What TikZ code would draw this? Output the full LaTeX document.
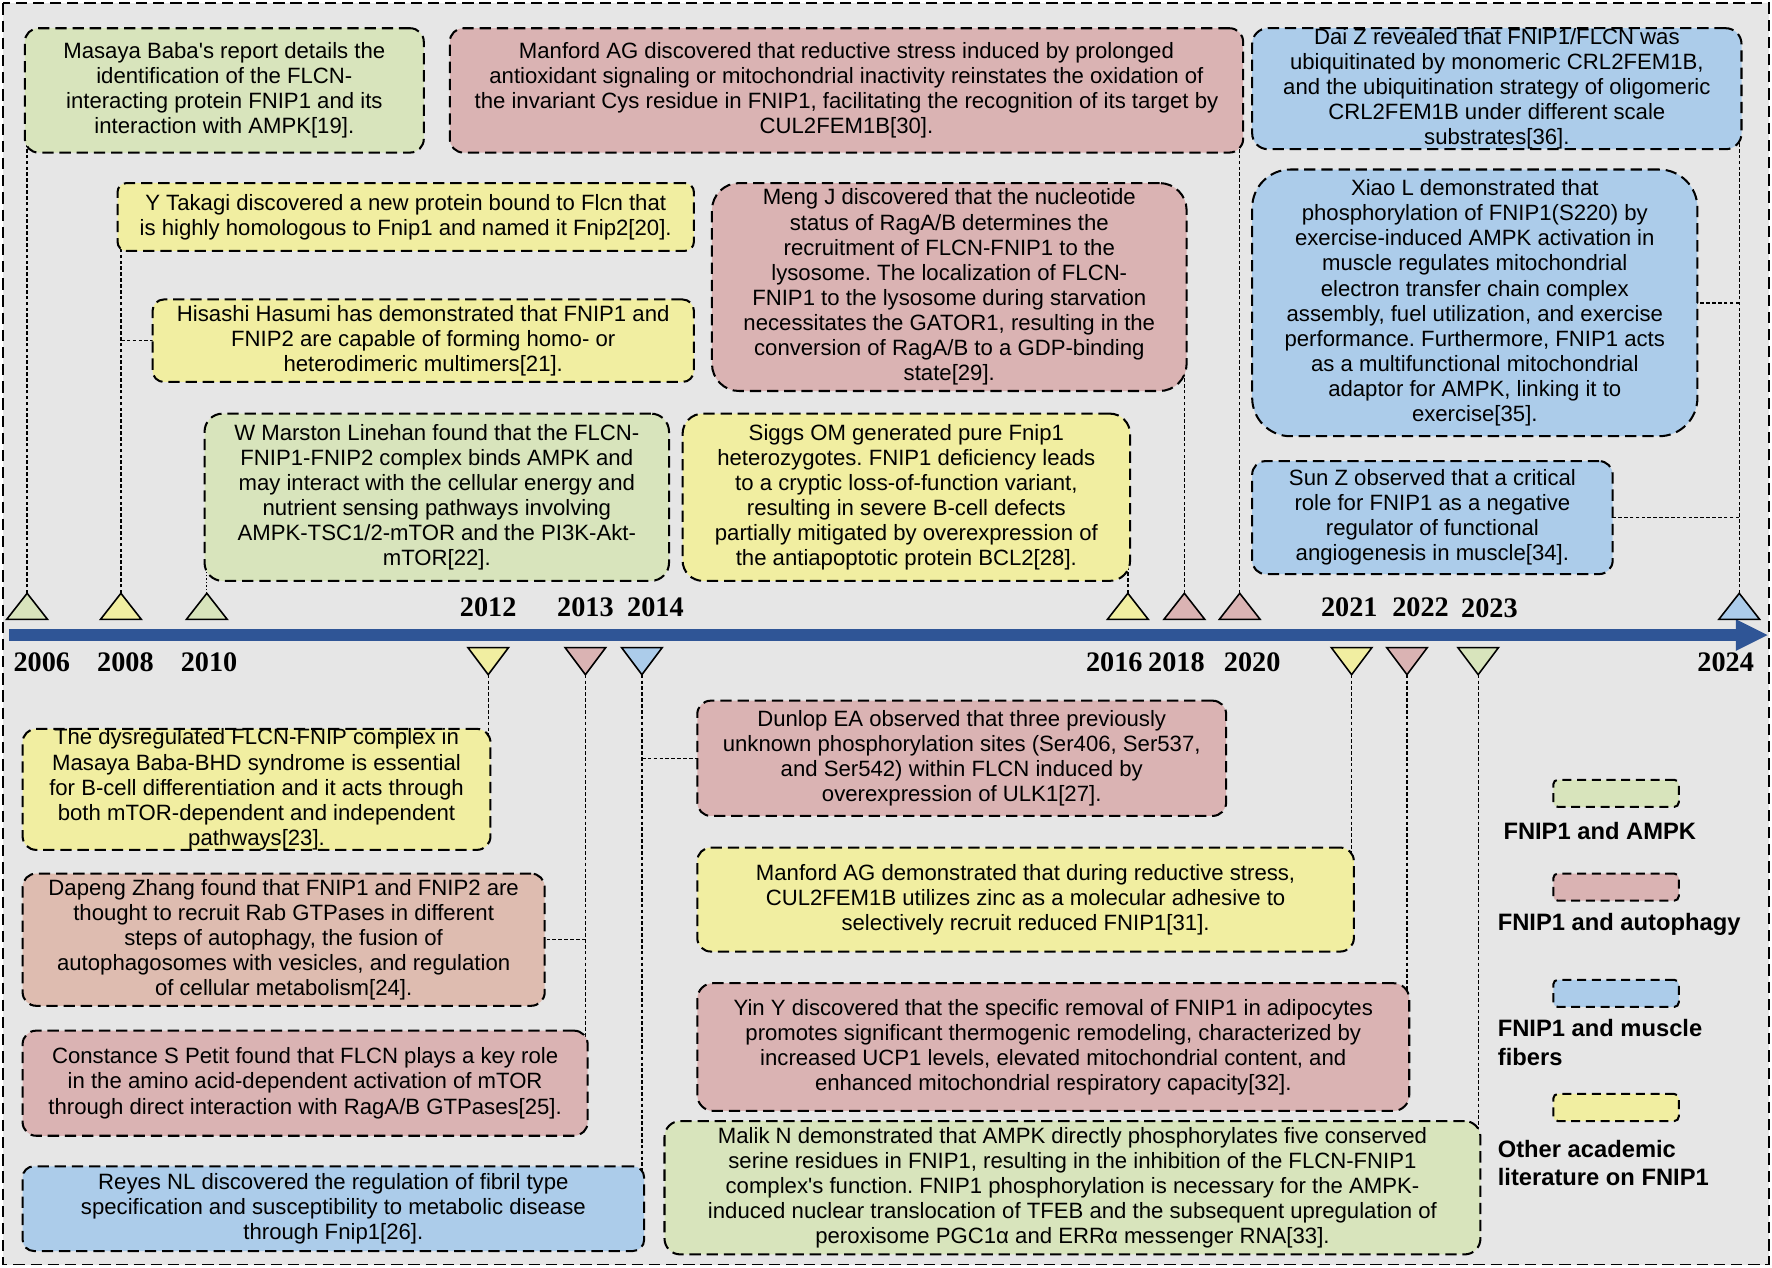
\documentclass[tikz,border=0pt]{standalone}
\usepackage{fontspec}
\setmainfont{Liberation Sans}
\newfontfamily\serifyear{Liberation Serif}
\usetikzlibrary{calc}
\frenchspacing
\definecolor{cgreen}{HTML}{D8E4BC}
\definecolor{cred}{HTML}{DAB3B3}
\definecolor{csalmon}{HTML}{DEBCB0}
\definecolor{cblue}{HTML}{ACCCEA}
\definecolor{cyellow}{HTML}{F1EEA1}
\definecolor{cbg}{HTML}{E6E6E6}
\definecolor{cbar}{HTML}{2F5596}
\pgfdeclarelayer{back}
\pgfdeclarelayer{lines}
\pgfsetlayers{back,lines,main}
\tikzset{
 evbox/.style={draw=black, line width=0.9pt, dash pattern=on 5pt off 2.6pt, rounded corners=6pt, align=center, inner sep=0pt, font=\fontsize{9.8}{11.1}\selectfont},
 conn/.style={draw=black, line width=0.6pt, dash pattern=on 1.6pt off 1pt},
 dotconn/.style={draw=black, line width=0.6pt, dash pattern=on 0.6pt off 0.9pt},
 tri/.style={draw=black, line width=0.7pt},
 yearlbl/.style={font=\serifyear\bfseries\fontsize{12.5}{14}\selectfont, inner sep=0pt},
 leglbl/.style={font=\bfseries\fontsize{10.5}{12.4}\selectfont, align=left, anchor=west, inner sep=0pt},
 legsw/.style={draw=black, line width=0.9pt, dash pattern=on 4pt off 2.5pt, rounded corners=2pt, minimum width=55.5pt, minimum height=12pt, inner sep=0pt},
 frame/.style={draw=black, line width=0.8pt, dash pattern=on 5pt off 2.6pt},
}
\newcommand\evt[8]{\node[evbox, fill=#6, minimum width={(#4-#2)*0.5pt}, minimum height={(#5-#3)*0.5pt}, #7] (#1) at ({(#2+#4)/2},{(#3+#5)/2}) {#8};}
\newcommand\triup[3]{\filldraw[tri, fill=#2] ({#1-18},548) -- ({#1+18},548) -- (#1,525) -- cycle; \coordinate (#3) at (#1,525);}
\newcommand\tridown[3]{\filldraw[tri, fill=#2] ({#1-18},573) -- ({#1+18},573) -- (#1,597) -- cycle; \coordinate (#3) at (#1,597);}
\begin{document}
\begin{tikzpicture}[x=0.5pt,y=-0.5pt]
\useasboundingbox (0,0) rectangle (1568,1122);
\begin{pgfonlayer}{back}
\fill[white] (0,0) rectangle (1568,1122);
\fill[cbg] (3,3) rectangle (1565,1119);
\fill[cbar] (8,557) rectangle (1538,567);
\fill[cbar] (1536,548) -- (1564,562) -- (1536,576) -- cycle;
\end{pgfonlayer}
\draw[frame] (3,3) rectangle (1565,1119);

% upper boxes
\evt{masaya}{22}{25}{375}{135}{cgreen}{}{Masaya Baba\textquotesingle s report details the\\identification of the FLCN-\\interacting protein FNIP1 and its\\interaction with AMPK[19].}
\evt{manford}{398}{25}{1100}{135}{cred}{}{Manford AG discovered that reductive stress induced by prolonged\\antioxidant signaling or mitochondrial inactivity reinstates the oxidation of\\the invariant Cys residue in FNIP1, facilitating the recognition of its target by\\CUL2FEM1B[30].}
\evt{daiz}{1108}{25}{1541}{132}{cblue}{rounded corners=7pt}{Dai Z revealed that FNIP1/FLCN was\\ubiquitinated by monomeric CRL2FEM1B,\\and the ubiquitination strategy of oligomeric\\CRL2FEM1B under different scale\\substrates[36].}
\evt{takagi}{104}{162}{614}{222}{cyellow}{rounded corners=4pt}{Y Takagi discovered a new protein bound to Flcn that\\is highly homologous to Fnip1 and named it Fnip2[20].}
\evt{hisashi}{135}{265}{614}{338}{cyellow}{rounded corners=5pt}{Hisashi Hasumi has demonstrated that FNIP1 and\\FNIP2 are capable of forming homo- or\\heterodimeric multimers[21].}
\evt{meng}{630}{162}{1050}{346}{cred}{rounded corners=12pt}{Meng J discovered that the nucleotide\\status of RagA/B determines the\\recruitment of FLCN-FNIP1 to the\\lysosome. The localization of FLCN-\\FNIP1 to the lysosome during starvation\\necessitates the GATOR1, resulting in the\\conversion of RagA/B to a GDP-binding\\state[29].}
\evt{xiao}{1108}{150}{1502}{386}{cblue}{rounded corners=17pt}{Xiao L demonstrated that\\phosphorylation of FNIP1(S220) by\\exercise-induced AMPK activation in\\muscle regulates mitochondrial\\electron transfer chain complex\\assembly, fuel utilization, and exercise\\performance. Furthermore, FNIP1 acts\\as a multifunctional mitochondrial\\adaptor for AMPK, linking it to\\exercise[35].}
\evt{linehan}{181}{366}{592}{514}{cgreen}{rounded corners=8pt}{W Marston Linehan found that the FLCN-\\FNIP1-FNIP2 complex binds AMPK and\\may interact with the cellular energy and\\nutrient sensing pathways involving\\AMPK-TSC1/2-mTOR and the PI3K-Akt-\\mTOR[22].}
\evt{siggs}{604}{366}{1000}{514}{cyellow}{rounded corners=9pt}{Siggs OM generated pure Fnip1\\heterozygotes. FNIP1 deficiency leads\\to a cryptic loss-of-function variant,\\resulting in severe B-cell defects\\partially mitigated by overexpression of\\the antiapoptotic protein BCL2[28].}
\evt{sunz}{1108}{408}{1427}{508}{cblue}{}{Sun Z observed that a critical\\role for FNIP1 as a negative\\regulator of functional\\angiogenesis in muscle[34].}

% lower boxes
\evt{dysreg}{20}{645}{434}{752}{cyellow}{}{The dysregulated FLCN-FNIP complex in\\Masaya Baba-BHD syndrome is essential\\for B-cell differentiation and it acts through\\both mTOR-dependent and independent\\pathways[23].}
\evt{dapeng}{20}{773}{482}{890}{csalmon}{}{Dapeng Zhang found that FNIP1 and FNIP2 are\\thought to recruit Rab GTPases in different\\steps of autophagy, the fusion of\\autophagosomes with vesicles, and regulation\\of cellular metabolism[24].}
\evt{constance}{20}{912}{520}{1005}{cred}{}{Constance S Petit found that FLCN plays a key role\\in the amino acid-dependent activation of mTOR\\through direct interaction with RagA/B GTPases[25].}
\evt{reyes}{20}{1032}{570}{1107}{cblue}{rounded corners=5pt}{Reyes NL discovered the regulation of fibril type\\specification and susceptibility to metabolic disease\\through Fnip1[26].}
\evt{dunlop}{617}{620}{1085}{722}{cred}{}{Dunlop EA observed that three previously\\unknown phosphorylation sites (Ser406, Ser537,\\and Ser542) within FLCN induced by\\overexpression of ULK1[27].}
\evt{manfordb}{617}{750}{1198}{842}{cyellow}{}{Manford AG demonstrated that during reductive stress,\\CUL2FEM1B utilizes zinc as a molecular adhesive to\\selectively recruit reduced FNIP1[31].}
\evt{yin}{617}{870}{1247}{983}{cred}{rounded corners=7pt}{Yin Y discovered that the specific removal of FNIP1 in adipocytes\\promotes significant thermogenic remodeling, characterized by\\increased UCP1 levels, elevated mitochondrial content, and\\enhanced mitochondrial respiratory capacity[32].}
\evt{malik}{588}{992}{1310}{1110}{cgreen}{rounded corners=7pt}{Malik N demonstrated that AMPK directly phosphorylates five conserved\\serine residues in FNIP1, resulting in the inhibition of the FLCN-FNIP1\\complex\textquotesingle s function. FNIP1 phosphorylation is necessary for the AMPK-\\induced nuclear translocation of TFEB and the subsequent upregulation of\\peroxisome PGC1α and ERRα messenger RNA[33].}

% triangles
\triup{24}{cgreen}{a2006}
\triup{107}{cyellow}{a2008}
\triup{183}{cgreen}{a2010}
\triup{998}{cyellow}{a2016}
\triup{1048}{cred}{a2018}
\triup{1097}{cred}{a2020}
\triup{1539}{cblue}{a2024}
\tridown{432}{cyellow}{a2012}
\tridown{518}{cred}{a2013}
\tridown{568}{cblue}{a2014}
\tridown{1196}{cyellow}{a2021}
\tridown{1245}{cred}{a2022}
\tridown{1308}{cgreen}{a2023}

% years
\node[yearlbl] (y2012) at (432,537) {2012};
\node[yearlbl] (y2013) at (518,537) {2013};
\node[yearlbl] (y2014) at (580,537) {2014};
\node[yearlbl] (y2021) at (1194,537) {2021};
\node[yearlbl] (y2022) at (1257,537) {2022};
\node[yearlbl] (y2023) at (1318,538) {2023};
\node[yearlbl] (y2006) at (37,586) {2006};
\node[yearlbl] (y2008) at (111,586) {2008};
\node[yearlbl] (y2010) at (185,586) {2010};
\node[yearlbl] (y2016) at (986,586) {2016};
\node[yearlbl] (y2018) at (1041,586) {2018};
\node[yearlbl] (y2020) at (1108,586) {2020};
\node[yearlbl] (y2024) at (1527,586) {2024};

% legend
\node[legsw, fill=cgreen] (sw1) at (1430,702) {};
\node[legsw, fill=cred] (sw2) at (1430,785) {};
\node[legsw, fill=cblue] (sw3) at (1430,879) {};
\node[legsw, fill=cyellow] (sw4) at (1430,980) {};
\node[leglbl] (lg1) at (1330,735) {FNIP1 and AMPK};
\node[leglbl] (lg2) at (1325,818) {FNIP1 and autophagy};
\node[leglbl] (lg3) at (1325,922.5) {FNIP1 and muscle\\fibers};
\node[leglbl] (lg4) at (1325,1029) {Other academic\\literature on FNIP1};

% connectors
\begin{pgfonlayer}{lines}
\draw[conn] (a2006) -- (a2006 |- masaya.center);
\draw[conn] (a2008) -- (a2008 |- takagi.center);
\draw[conn] (a2008 |- hisashi.center) -- (hisashi.center);
\draw[dotconn] (a2010) -- (a2010 |- linehan.center);
\draw[conn] (a2016) -- (a2016 |- siggs.center);
\draw[conn] (a2018) -- (a2018 |- meng.center);
\draw[conn] (a2020) -- (a2020 |- manford.center);
\draw[conn] (a2024) -- (a2024 |- daiz.center);
\draw[conn] (a2024 |- xiao.center) -- (xiao.center);
\draw[conn] (a2024 |- sunz.center) -- (sunz.center);
\draw[conn] (a2012) -- (a2012 |- dysreg.center);
\draw[conn] (a2013) -- (a2013 |- constance.center);
\draw[conn] (a2013 |- dapeng.center) -- (dapeng.center);
\draw[conn] (a2014) -- (a2014 |- reyes.center);
\draw[conn] (a2014 |- dunlop.center) -- (dunlop.center);
\draw[conn] (a2021) -- (a2021 |- manfordb.center);
\draw[conn] (a2022) -- (a2022 |- yin.center);
\draw[conn] (a2023) -- (a2023 |- malik.center);
\end{pgfonlayer}
\end{tikzpicture}
\end{document}
